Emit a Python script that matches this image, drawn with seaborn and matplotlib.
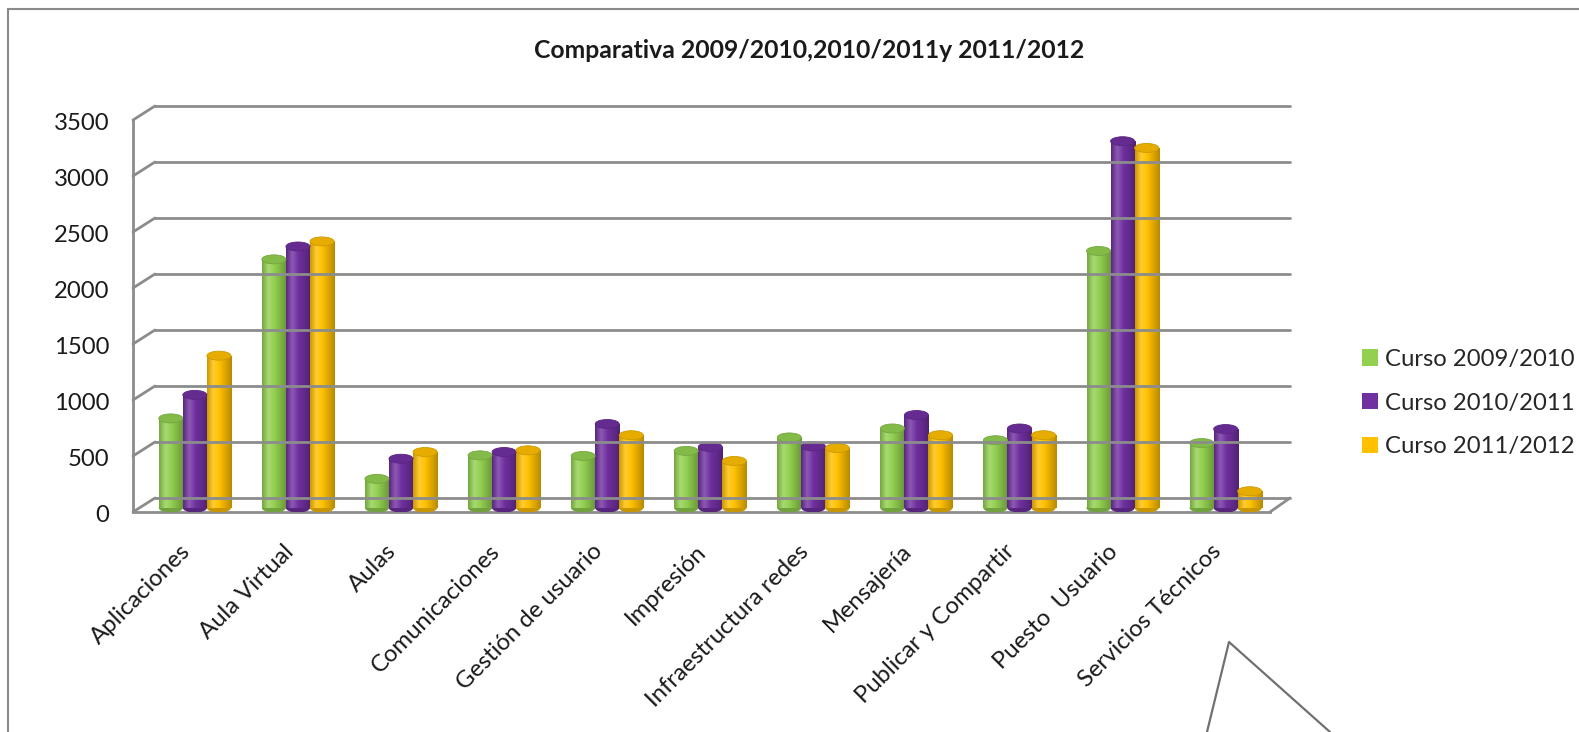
import numpy as np
import pandas as pd
import seaborn as sns
import matplotlib
matplotlib.use("Agg")
import matplotlib.pyplot as plt
from matplotlib.colors import LinearSegmentedColormap, to_rgb
from matplotlib.patches import Ellipse, Patch
from matplotlib.lines import Line2D
import matplotlib.transforms as mtransforms

# ---------------- data ----------------
categories = ["Aplicaciones", "Aula Virtual", "Aulas", "Comunicaciones",
              "Gestión de usuario", "Impresión", "Infraestructura redes",
              "Mensajería", "Publicar y Compartir", "Puesto  Usuario",
              "Servicios Técnicos"]
curso_2009_2010 = [800, 2220, 260, 470, 465, 510, 630, 710, 605, 2295, 580]
curso_2010_2011 = [1010, 2335, 440, 500, 750, 545, 550, 830, 710, 3275, 705]
curso_2011_2012 = [1360, 2380, 500, 515, 650, 420, 535, 650, 650, 3215, 150]
series_labels = ["Curso 2009/2010", "Curso 2010/2011", "Curso 2011/2012"]
series_colors = ["#92D050", "#7030A0", "#FFC000"]
y_ticks = [0, 500, 1000, 1500, 2000, 2500, 3000, 3500]
title = "Comparativa 2009/2010,2010/2011y 2011/2012"

rows = []
for lab, vals in zip(series_labels, [curso_2009_2010, curso_2010_2011, curso_2011_2012]):
    for c, v in zip(categories, vals):
        rows.append({"categoria": c, "valor": v, "serie": lab})
df = pd.DataFrame(rows)

# ---------------- figure ----------------
W, H = 1579, 732
sns.set_theme(style="white")
plt.rcParams["font.family"] = ["Lato", "DejaVu Sans"]
fig = plt.figure(figsize=(W / 100, H / 100), dpi=100)

FS = 17.2
k = 56 / 500.0            # px per unit
zero_px = 508             # data zero (pixel from top)
ax_left, ax_right = 133, 1270
ax_bot, ax_top = 512, 105
ax = fig.add_axes([ax_left / W, (H - ax_bot) / H, (ax_right - ax_left) / W, (ax_bot - ax_top) / H])
ax.set_facecolor("none")

sns.barplot(data=df, x="categoria", y="valor", hue="serie", order=categories,
            hue_order=series_labels, palette=series_colors, width=0.7, gap=0,
            saturation=1, ax=ax, legend=False, edgecolor="none")

ylo = -(ax_bot - zero_px) / k
yhi = (zero_px - ax_top) / k
xlo = -0.6
xhi = 10.43
ax.set_xlim(xlo, xhi)
ax.set_ylim(ylo, yhi)

# cylinder shading
def shade(c, f):
    r = np.array(to_rgb(c))
    return tuple(np.clip(r * f, 0, 1))

def tint(c, f):
    r = np.array(to_rgb(c))
    return tuple(r + (1 - r) * f)

cap_h = 9 / k
for cont, col in zip(ax.containers, series_colors):
    cmap = LinearSegmentedColormap.from_list(
        "cyl", [(0, shade(col, 0.8)), (0.25, tint(col, 0.2)), (0.5, col), (1, shade(col, 0.72))])
    grad = np.linspace(0, 1, 64)[None, :]
    for p in cont.patches:
        x, w, h = p.get_x(), p.get_width(), p.get_height()
        im = ax.imshow(grad, extent=[x, x + w, 0, h], cmap=cmap, aspect="auto",
                       zorder=3, interpolation="bilinear")
        im.set_clip_path(p)
        ax.add_patch(Ellipse((x + w / 2, 0), w, cap_h, facecolor=shade(col, 0.78),
                             edgecolor="none", zorder=2.9))
        ax.add_patch(Ellipse((x + w / 2, h), w, cap_h, facecolor=shade(col, 0.9),
                             edgecolor=shade(col, 0.8), linewidth=0.6, zorder=4))
ax.set_xlim(xlo, xhi)
ax.set_ylim(ylo, yhi)

# axes styling
for s in ["top", "right", "left"]:
    ax.spines[s].set_visible(False)
ax.spines["bottom"].set_color("#8c8c8c")
ax.spines["bottom"].set_linewidth(2)
ax.set_xlabel("")
ax.set_ylabel("")
ax.set_yticks(y_ticks)
ax.set_yticklabels([str(t) for t in y_ticks], fontsize=FS, color="#1a1a1a")
ax.tick_params(axis="y", length=0, pad=17)
for lab in ax.get_yticklabels():
    lab.set_transform(lab.get_transform() + mtransforms.ScaledTranslation(0, -0.06, fig.dpi_scale_trans))
ax.tick_params(axis="x", length=0, pad=26)
ax.set_xticks(range(len(categories)))
ax.set_xticklabels(categories, rotation=45, ha="right", va="center",
                   rotation_mode="anchor", fontsize=FS, color="#1a1a1a")
for lab in ax.get_xticklabels():
    lab.set_transform(lab.get_transform() + mtransforms.ScaledTranslation(-0.08, 0, fig.dpi_scale_trans))
ax.grid(False)

# 3D-like back wall gridlines, drawn in figure coordinates
fig.canvas.draw()
def to_fig(xd, yd, dx=0, dy=0):
    px = ax.transData.transform((xd, yd))
    px = px + np.array([dx, dy])
    return fig.transFigure.inverted().transform(px)

grid_col = "#8c8c8c"
back_dx_l = 155 - ax_left
back_dx_r = 1290 - ax_right
front_off = -4
back_off = 10
for t in y_ticks:
    a = to_fig(xlo, t, back_dx_l, back_off)
    b = to_fig(xhi, t, back_dx_r, back_off)
    fig.add_artist(Line2D([a[0], b[0]], [a[1], b[1]], color=grid_col, lw=2, zorder=1))
    f = to_fig(xlo, t, 0, front_off)
    fig.add_artist(Line2D([f[0], a[0]], [f[1], a[1]], color=grid_col, lw=2, zorder=1))
# front axis
f0 = to_fig(xlo, 0, 0, front_off)
f1 = to_fig(xlo, y_ticks[-1], 0, front_off)
fig.add_artist(Line2D([f0[0], f1[0]], [f0[1], f1[1]], color=grid_col, lw=2, zorder=1))
# floor right edge
r0 = to_fig(xhi, 0, 0, front_off)
r1 = to_fig(xhi, 0, back_dx_r, back_off)
fig.add_artist(Line2D([r0[0], r1[0]], [r0[1], r1[1]], color=grid_col, lw=2, zorder=1))

# title
fig.text(809 / W, 1 - 50 / H, title, ha="center", va="center", fontsize=17.8,
         fontweight="bold", color="#1a1a1a")

# legend
handles = [Patch(facecolor=c, edgecolor="none") for c in series_colors]
fig.legend(handles, series_labels, loc="center left",
           bbox_to_anchor=(1362 / W, (H - 403) / H), frameon=False,
           handlelength=0.68, handleheight=0.68, handletextpad=0.3,
           labelspacing=0.95, borderpad=0, borderaxespad=0,
           prop={"family": ["Lato", "DejaVu Sans"], "size": FS})

# outer chart border (top and left edges)
bc = "#8a8a8a"
fig.add_artist(Line2D([8 / W, 1.0], [1 - 9 / H, 1 - 9 / H], color=bc, lw=1.5))
fig.add_artist(Line2D([8 / W, 8 / W], [0, 1 - 9 / H], color=bc, lw=1.5))
# callout shape at bottom right
fig.add_artist(Line2D([1207 / W, 1229 / W, 1330 / W], [0, 1 - 642 / H, 0], color="#707070", lw=1.6))

fig.savefig("out.png", dpi=100)
